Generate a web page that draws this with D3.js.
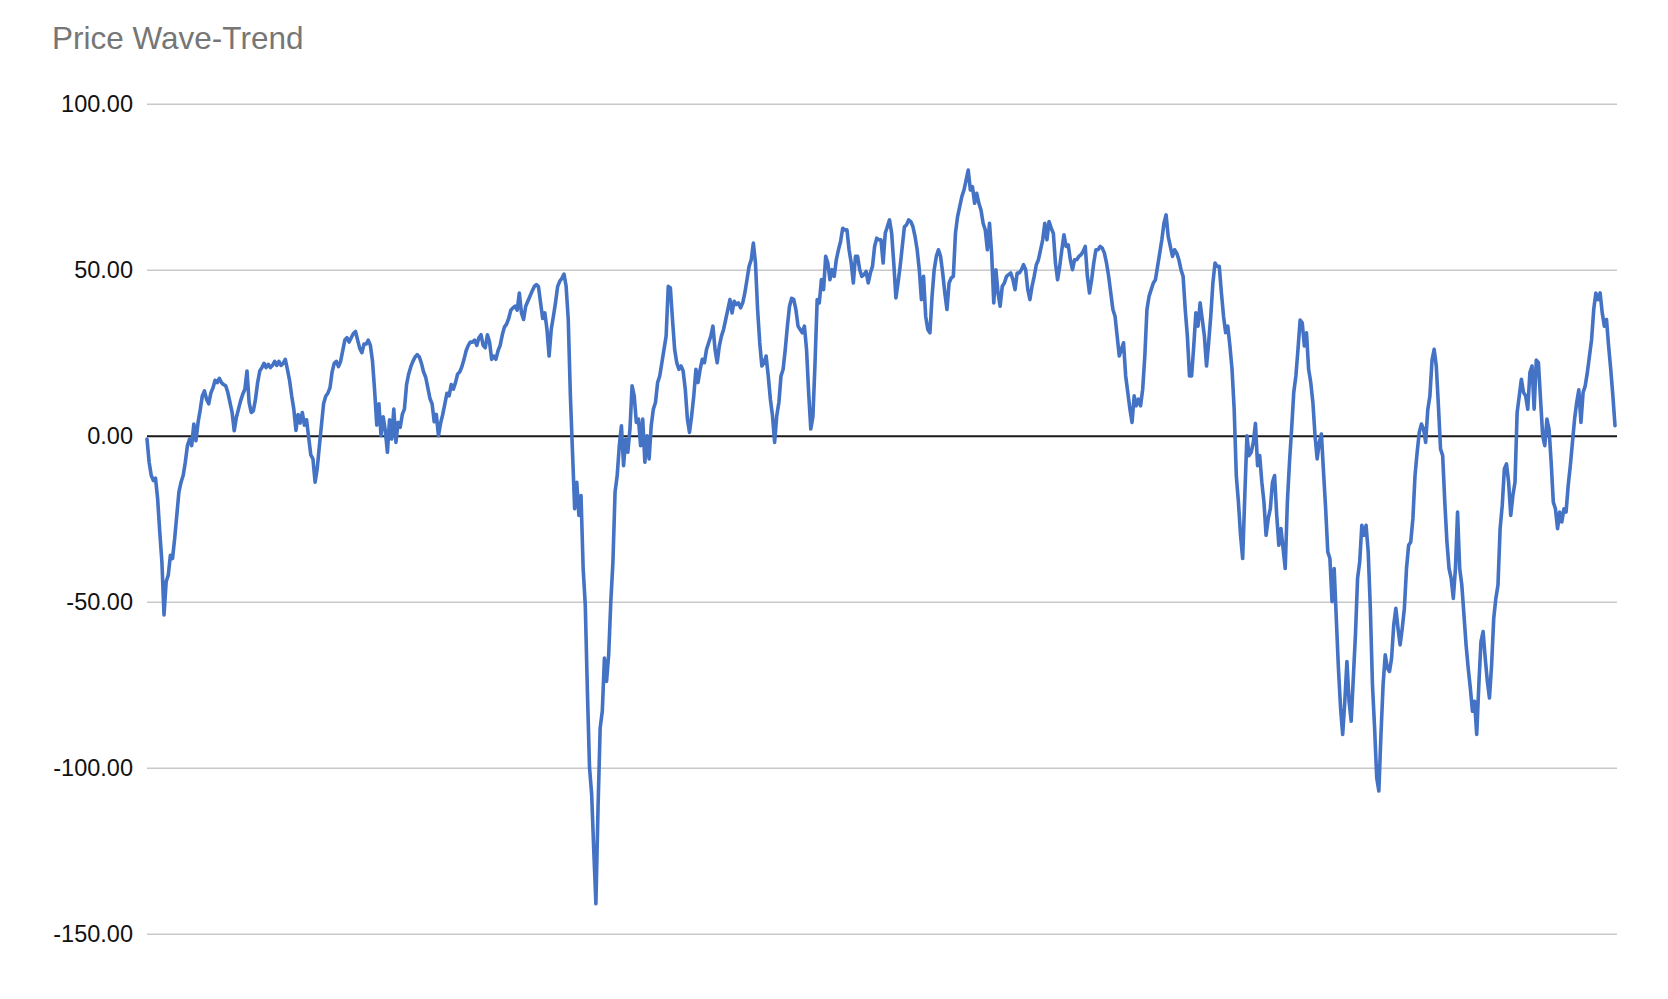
<!DOCTYPE html>
<html>
<head>
<meta charset="utf-8">
<script src="https://cdn.jsdelivr.net/npm/d3@7"></script>
<style>
  html, body { margin: 0; padding: 0; background: #ffffff; }
  svg { display: block; }
</style>
</head>
<body>
<svg id="chart" width="1668" height="999"></svg>
<script>
// ---- Data (wave-trend values, evenly spaced observations) ----
const chartTitle = "Price Wave-Trend";
const yTicks = [100, 50, 0, -50, -100, -150];

const waveSeg1 = [-1, -8, -12, -13.5, -12.8, -19, -29, -38, -54, -44, -42, -36, -37, -31, -24, -17, -14, -12, -8, -3,
  -1, -3, 3.5, -1.5, 4, 7.7, 12, 13.5, 11, 9.6, 12.8, 14.4, 16.7, 16, 17.3, 16, 15.4, 15, 13, 10,
  7, 1.5, 5.5, 8, 10.5, 12.5, 14, 19.5, 10, 7, 7.5, 11, 16, 19.5, 20.5, 21.8, 20.5, 21.5, 20.5, 21.2,
  22.4, 21.2, 22.4, 21.2, 21.8, 23, 20,
  16.7, 12, 8, 1.6, 6.4, 3.8, 7, 3.2, 4.8, -0.6, -5.8, -7, -14, -10, -3.2, 3.2, 9.6, 11.9, 12.8, 14.4,
  19.2, 21.8, 22.4, 20.8, 22.4, 25.6, 28.8, 29.5, 28.2, 29.5, 30.8, 31.4, 28.8, 26.3, 25, 27.6, 27.6, 28.8, 27.2, 22.4,
  13.5, 3.2, 9.6, 0, 5.7, 1.6, -5, 4.8, -1, 8, -2, 4, 2.5, 6.4, 8, 15.4, 18.6, 20.8, 22.4, 23.7,
  24.4, 23.7, 21.8, 19.2, 17.6, 14.4, 11.2, 9.6, 4.2, 6.4, 0, 3.8, 6.4, 9.6, 12.8, 12, 15.4, 14, 16, 18.6];

const waveSeg2 = [19.2, 20.8, 23, 25.6, 27.2, 28.2, 28.2, 28.8, 27.2, 29.5, 30.4, 27.2, 26.5, 30.4, 28.2, 23, 24, 23, 25.6, 27.2,
  30.4, 32.7, 33.6, 35.3, 37.8, 38.5, 39, 37.8, 43, 37, 35, 39, 40.5, 42, 43.5, 44.9, 45.5, 44.9, 40, 35.3,
  37, 32, 24, 32, 35.9, 40, 44.9, 46.5, 47.4, 48.7, 45, 35, 12,
  -5, -22, -14, -24, -18, -40, -51, -77, -100, -108, -125, -141, -112, -88, -83, -67, -74, -66, -50, -38,
  -17, -12, -3, 3, -9, -1, -5, 2, 15, 12, 4, 5, -3, 5, -8, 0, -7, 3, 8, 10,
  16, 18, 22, 26, 30, 45, 44.5, 35, 26, 22, 20, 21, 19.5, 14, 5, 1, 6, 12, 20, 16,
  20, 23, 22, 26, 28, 30, 33, 26, 22, 27, 30, 32, 35, 38, 41, 37, 40.5, 39.5, 40, 38.5,
  40, 43];

const waveSeg3 = [47, 51, 53, 58, 52, 38, 28, 21, 22, 24, 18, 11, 6, -2, 6, 10, 18, 20, 26, 33,
  39, 41.4, 41, 38, 33, 32, 31, 33, 26, 13, 2, 5.7, 22, 41,
  40, 47, 44, 54, 52, 47, 50, 48, 53, 56, 58.5, 62.5, 62, 62, 56, 52, 46, 54, 54, 50,
  48, 48.5, 49.5, 46, 49, 51, 57, 59.5, 59, 59, 52, 61, 63, 65, 61, 52, 41.5, 46, 51, 57,
  62.9, 63.5, 65, 64.5, 63, 60, 56, 50, 41, 48, 36, 32, 31, 42, 50, 54, 56, 54, 49, 43,
  38, 46, 47.5, 48, 61, 66, 69, 72, 74, 77, 80, 74, 75, 70, 73, 70, 68, 64, 62, 56, 64];

const waveSeg4 = [55, 40, 50, 43, 39, 45, 46, 48, 48.5, 49, 47, 44, 49, 49, 50, 51.5, 50, 44, 41, 45,
  48, 51.5, 53, 56, 59, 64, 59, 64.5, 62.5, 61, 52, 47, 51, 56, 60.5, 57, 57.5, 53, 50, 53,
  53, 54, 54.5, 55.5, 57, 48, 43, 47, 52, 56, 56, 57, 56.5, 55, 52, 48, 43, 38, 36, 30,
  24, 26, 28,
  18, 13, 8, 4, 12, 9, 11, 9, 14, 24, 38, 42, 44, 46, 47, 51, 55, 59, 64, 66.5,
  60, 57, 54, 56, 55, 53, 50, 48, 38, 30, 18, 18, 27, 37, 33, 40, 35, 30, 21, 28,
  36, 46, 52, 51, 51, 43, 36, 31, 33, 27, 20, 8, -12, -20, -30, -37, -18, 0, -6, -5,
  -2, 3.7, -9, -6, -14, -20, -30, -25, -22, -14, -12, -24, -33, -28, -34, -40, -20, -8, 2, 13,
  18, 26, 34.8, 34, 27, 31, 20, 16, 10, 0, -7, -2, 0.5, -11, -22, -35, -37, -50, -40, -55,
  -70, -82, -90];

const waveSeg5 = [-80, -68, -80, -86, -73, -60, -43, -38, -27, -30, -27, -35, -52, -75, -88, -103, -107, -90, -75, -66,
  -70, -71, -67, -57, -52, -58, -63, -58, -52, -40, -33, -32, -25, -12, -5, 1, 3.5, 2, -2, 7.8,
  12, 22.8, 26, 21, 9, -4, -6, -20, -32, -40, -43, -49, -40, -23, -40, -45, -54, -63, -70, -76,
  -83, -80, -90, -75, -62, -59, -67, -74, -79, -69, -55, -49, -45, -28, -21, -10, -8.5, -14,
  -24, -18, -14, 7, 12, 17, 13, 12, 8, 19, 21, 8, 22.8, 22, 11, 0, -3, 5, 2, -8,
  -20, -22, -28, -23, -26, -22, -23, -15, -9, -2, 5, 10, 13.8, 4, 13, 15, 19, 24, 29, 38,
  43, 41, 43, 37, 33, 35, 27, 20, 12, 3];

const waveTrend = [].concat(waveSeg1, waveSeg2, waveSeg3, waveSeg4, waveSeg5);

// ---- Drawing ----
const svg = d3.select("#chart");
const plot = { left: 147, right: 1617, top: 103.7, bottom: 933.7 };
const fontFamily = "'Helvetica Neue', Helvetica, 'Liberation Sans', Arial, sans-serif";

const x = d3.scaleLinear()
  .domain([0, waveTrend.length - 1])
  .range([plot.left, 1615]);

const y = d3.scaleLinear()
  .domain([-150, 100])
  .range([plot.bottom, plot.top]);

// Title
svg.append("text")
  .attr("x", 52)
  .attr("y", 49)
  .attr("font-family", fontFamily)
  .attr("font-size", 31.5)
  .attr("fill", "#767676")
  .text(chartTitle);

// Gridlines + labels via d3 axis
const yAxis = d3.axisLeft(y)
  .tickValues(yTicks)
  .tickSize(-(plot.right - plot.left))
  .tickPadding(14)
  .tickFormat(d => d.toFixed(2));

const gAxis = svg.append("g")
  .attr("transform", `translate(${plot.left},0)`)
  .call(yAxis);

gAxis.select(".domain").remove();
gAxis.selectAll(".tick line")
  .attr("stroke", d => d === 0 ? "#1a1a1a" : "#c8c8c8")
  .attr("stroke-width", d => d === 0 ? 2 : 1.5);
gAxis.selectAll(".tick text")
  .attr("font-family", fontFamily)
  .attr("font-size", 23.5)
  .attr("fill", "#111");

gAxis.selectAll(".tick").filter(d => d === 0).raise();

// Line
const line = d3.line()
  .x((d, i) => x(i))
  .y(d => y(d))
  .curve(d3.curveLinear);

svg.append("path")
  .datum(waveTrend)
  .attr("fill", "none")
  .attr("stroke", "#4472c4")
  .attr("stroke-width", 3.6)
  .attr("stroke-linejoin", "round")
  .attr("stroke-linecap", "round")
  .attr("d", line);
</script>
</body>
</html>
